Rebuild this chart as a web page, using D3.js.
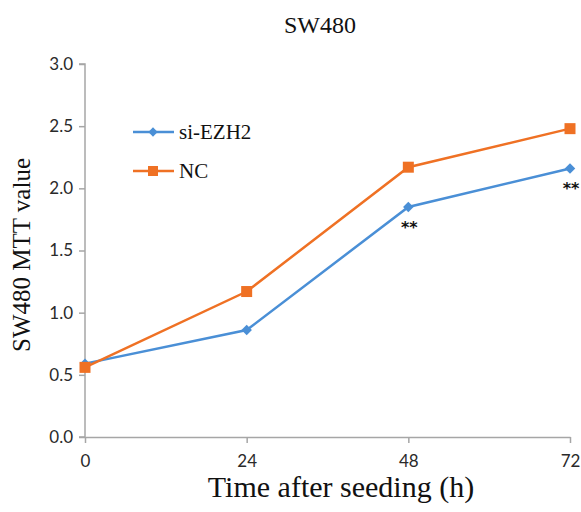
<!DOCTYPE html>
<html>
<head>
<meta charset="utf-8">
<script src="https://d3js.org/d3.v7.min.js"></script>
<style>
  body { margin: 0; background: #fff; }
  svg { display: block; }
</style>
</head>
<body>
<svg width="581" height="512"></svg>
<script>
// chart data
const hours = [0, 24, 48, 72];
const siEZH2 = [0.59, 0.86, 1.85, 2.16];
const nc = [0.56, 1.17, 2.17, 2.48];
const yTicks = [0, 0.5, 1, 1.5, 2, 2.5, 3];
const starHours = [48, 72];
const starValues = [1.85, 2.16];

const BLUE = '#4a8fd6';
const ORANGE = '#ef7124';
const AXIS = '#a6a6a6';
const serif = '"Liberation Serif", "Times New Roman", serif';

const svg = d3.select('svg');
const x = d3.scaleLinear().domain([0, 72]).range([85, 570]);
const y = d3.scaleLinear().domain([0, 3]).range([437, 64]);

// axes
const yAxis = svg.append('g').attr('transform', 'translate(85,0)')
  .call(d3.axisLeft(y).tickValues(yTicks).tickFormat(d3.format('.1f')).tickSize(6).tickPadding(6));
const xAxis = svg.append('g').attr('transform', 'translate(0,437)')
  .call(d3.axisBottom(x).tickValues(hours).tickSize(6).tickSizeOuter(0).tickPadding(12));

[yAxis, xAxis].forEach(a => {
  a.select('.domain').attr('stroke', AXIS).attr('stroke-width', 1.5);
  a.selectAll('.tick line').attr('stroke', AXIS).attr('stroke-width', 1.5);
  a.selectAll('.tick text')
    .attr('fill', '#2a2a2a')
    .style('font-family', 'Lato, "Open Sans", sans-serif')
    .style('font-size', '17px');
});
yAxis.select('.domain').attr('d', 'M-6,437H0V64H-6');

// series
const line = d3.line().x((d, i) => x(hours[i])).y(d => y(d));
svg.append('path').datum(siEZH2).attr('d', line)
  .attr('fill', 'none').attr('stroke', BLUE).attr('stroke-width', 2.5);
svg.append('path').datum(nc).attr('d', line)
  .attr('fill', 'none').attr('stroke', ORANGE).attr('stroke-width', 2.5);

const diamond = d3.symbol().type(d3.symbolDiamond2).size(70);
svg.append('g').selectAll('path').data(siEZH2).join('path')
  .attr('d', diamond)
  .attr('transform', (d, i) => `translate(${x(hours[i])},${y(d)})`)
  .attr('fill', BLUE);

svg.append('g').selectAll('rect').data(nc).join('rect')
  .attr('x', (d, i) => x(hours[i]) - 5.5)
  .attr('y', d => y(d) - 5.5)
  .attr('width', 11).attr('height', 11)
  .attr('fill', ORANGE);

// significance marks
svg.append('g').selectAll('text').data(starValues).join('text')
  .attr('x', (d, i) => x(starHours[i]) + 1)
  .attr('y', d => y(d) + 26)
  .attr('text-anchor', 'middle')
  .style('font-family', '"DejaVu Sans", sans-serif')
  .style('font-size', '16px').style('font-weight', 'bold')
  .attr('fill', '#111')
  .text('**');

// legend
const legend = [
  { name: 'si-EZH2', color: BLUE, shape: 'diamond' },
  { name: 'NC', color: ORANGE, shape: 'square' }
];
const lg = svg.append('g').selectAll('g').data(legend).join('g')
  .attr('transform', (d, i) => `translate(133,${132 + i * 39})`);
lg.append('line').attr('x1', 0).attr('x2', 41).attr('y1', 0).attr('y2', 0)
  .attr('stroke', d => d.color).attr('stroke-width', 2.5);
lg.filter(d => d.shape === 'diamond').append('path')
  .attr('d', d3.symbol().type(d3.symbolDiamond2).size(55))
  .attr('transform', 'translate(20,0)').attr('fill', d => d.color);
lg.filter(d => d.shape === 'square').append('rect')
  .attr('x', 15).attr('y', -5).attr('width', 10).attr('height', 10)
  .attr('fill', d => d.color);
lg.append('text').attr('x', 46).attr('y', 7)
  .style('font-family', serif)
  .style('font-size', '21px').attr('fill', '#111')
  .text(d => d.name);

// titles
svg.append('text').attr('x', 320).attr('y', 33).attr('text-anchor', 'middle')
  .style('font-family', serif).style('font-size', '24px').attr('fill', '#111')
  .text('SW480');
svg.append('text').attr('x', 341).attr('y', 497).attr('text-anchor', 'middle')
  .style('font-family', serif).style('font-size', '30px').attr('fill', '#111')
  .text('Time after seeding (h)');
svg.append('text')
  .attr('transform', 'translate(30,255) rotate(-90)')
  .attr('text-anchor', 'middle')
  .style('font-family', serif).style('font-size', '25px').attr('fill', '#111')
  .text('SW480 MTT value');
</script>
</body>
</html>
